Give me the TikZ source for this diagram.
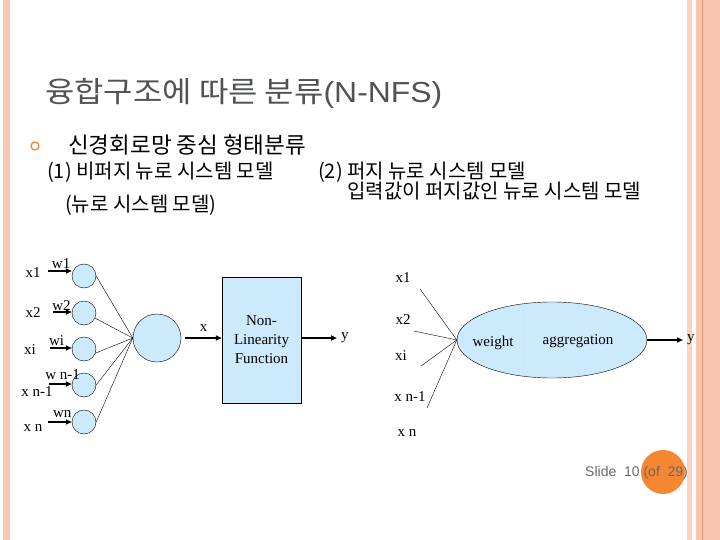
\documentclass[tikz,border=0pt]{standalone}
\usepackage{fontspec}
\setmainfont{Liberation Serif}
\setsansfont{Liberation Sans}
\newfontfamily\kofont{Noto Sans CJK KR}
\usetikzlibrary{arrows.meta,positioning,shapes.geometric}
\definecolor{bordersalmon}{RGB}{249,198,178}
\definecolor{borderpale}{RGB}{251,212,194}
\definecolor{borderline}{RGB}{232,150,108}
\definecolor{cellblue}{RGB}{204,234,252}
\definecolor{slideorange}{RGB}{245,135,50}
\definecolor{titlegray}{RGB}{80,82,86}
\definecolor{footgray}{RGB}{105,105,105}
\definecolor{dividegreen}{RGB}{214,236,188}

\tikzset{
  lbl/.style={font=\fontsize{15}{17}\selectfont, inner sep=0pt},
  kotext/.style={font=\kofont\fontsize{20}{22}\selectfont, anchor=west, inner sep=0pt},
  cell/.style={circle, draw, thin, fill=cellblue, minimum size=24pt, inner sep=0pt},
  inarrow/.style={-{Triangle[length=6pt,width=5pt]}, line width=1.6pt},
  wire/.style={thin}
}

\begin{document}
\begin{tikzpicture}[x=1pt,y=-1pt]
  \useasboundingbox (0,0) rectangle (720,540);
  % slide borders
  \fill[bordersalmon] (3,0) rectangle (9.5,540);
  \fill[borderpale] (687,0) rectangle (692,540);
  \fill[bordersalmon] (696,0) rectangle (720,540);
  \fill[borderline] (702,0) rectangle (703.2,540);

  % title and headings
  \node[anchor=base west, inner sep=0pt, text=titlegray, font=\kofont\fontsize{29}{32}\selectfont] (title) at (45,103) {\scalebox{1.1}[1]{융합구조에 따른 분류{\sffamily(N-NFS)}}};
  \node[circle, draw=slideorange, line width=1.3pt, minimum size=8pt, inner sep=0pt] (bullet) at (35,146) {};
  \node[kotext, font=\kofont\fontsize{22.5}{24}\selectfont] (head) at (68,145) {신경회로망 중심 형태분류};
  \node[kotext] (modelA) at (47,172) {(1) 비퍼지 뉴로 시스템 모델};
  \node[kotext] (modelAsub) at (65,205) {(뉴로 시스템 모델)};
  \node[kotext] (modelB) at (318,172) {(2) 퍼지 뉴로 시스템 모델};
  \node[kotext] (modelBsub) at (347,191) {입력값이 퍼지값인 뉴로 시스템 모델};

  % non-fuzzy neuron
  \node[cell] (c1) at (84,276) {};
  \node[cell] (c2) at (84,313) {};
  \node[cell] (c3) at (84,349) {};
  \node[cell] (c4) at (84,385) {};
  \node[cell] (c5) at (84,422) {};
  \node[lbl] (x1) at (33,273) {x1};
  \node[lbl] (x2) at (33,313) {x2};
  \node[lbl] (xi) at (30,350) {xi};
  \node[lbl] (xn1) at (37,392) {x n-1};
  \node[lbl] (xn) at (33,428) {x n};
  \coordinate (a1) at (48,271);
  \coordinate (a2) at (53,312);
  \coordinate (a3) at (50,348);
  \coordinate (a4) at (49,384);
  \coordinate (a5) at (48,422);
  \draw[inarrow] (a1) -- (a1 -| c1.west) node[lbl, pos=0.55, above=2pt] (w1) {w1};
  \draw[inarrow] (a2) -- (a2 -| c2.west) node[lbl, pos=0.45, above=1pt] (w2) {w2};
  \draw[inarrow] (a3) -- (a3 -| c3.west) node[lbl, pos=0.3, above=2pt] (wi) {wi};
  \draw[inarrow] (a4) -- (a4 -| c4.west) node[lbl, pos=0.6, above=4pt] (wn1) {w n-1};
  \draw[inarrow] (a5) -- (a5 -| c5.west) node[lbl, pos=0.6, above=4pt] (wn) {wn};

  \node[circle, draw, thin, fill=cellblue, minimum size=48pt, inner sep=0pt] (sum) at (157,338) {};
  \draw[wire] (c1.east) -- (sum.west);
  \draw[wire] (c2.-25) -- (sum.west);
  \draw[wire] (c3.-20) -- (sum.west);
  \draw[wire] (c4.east) -- (sum.west);
  \draw[wire] (c5.east) -- (sum.west);

  \node[draw, thin, fill=cellblue, minimum width=79pt, minimum height=126pt, align=center,
        font=\fontsize{15}{19}\selectfont] (nlf) at (261.5,340) {Non-\\Linearity\\Function};
  \draw[inarrow] ([xshift=4pt]sum.east) -- (sum.east -| nlf.west) node[lbl, midway, above=6pt] (xout) {x};
  \coordinate (yend) at (337,338);
  \draw[inarrow] (yend -| nlf.east) -- (yend);
  \node[lbl, right=4pt of yend] (y1) {y};

  % fuzzy neuron
  \node[lbl] (rx1) at (403,278) {x1};
  \node[lbl] (rx2) at (403,320) {x2};
  \node[lbl] (rxi) at (401,356) {xi};
  \node[lbl] (rxn1) at (410,397) {x n-1};
  \node[lbl] (rxn) at (407,433) {x n};
  \node[ellipse, draw, thin, fill=cellblue, minimum width=190pt, minimum height=76pt, inner sep=0pt] (agg) at (552,340) {};
  \coordinate (r1) at (420,289);
  \coordinate (r2) at (414,331);
  \coordinate (r3) at (421,366);
  \coordinate (r4) at (427,408);
  \draw[wire] (r1) -- (agg.west);
  \draw[wire] (r2) -- (agg.west);
  \draw[wire] (r3) -- (agg.west);
  \draw[wire] (r4) -- (agg.west);
  \draw[dividegreen, thin] (523,304) -- (523,376);
  \node[lbl] (wlbl) at (493,343) {weight};
  \node[lbl] (agglbl) at (578,341) {aggregation};
  \coordinate (ryend) at (683,340);
  \draw[inarrow] (agg.east) -- (ryend);
  \node[lbl, right=4pt of ryend] (y2) {y};

  % footer
  \node[circle, fill=slideorange, minimum size=44pt, inner sep=0pt] (dot) at (663,472) {};
  \node[anchor=west, inner sep=0pt, text=footgray, font=\sffamily\fontsize{14}{16}\selectfont] (foot) at (585,473) {Slide\ \ 10 (of\ \ 29)};
\end{tikzpicture}
\end{document}
